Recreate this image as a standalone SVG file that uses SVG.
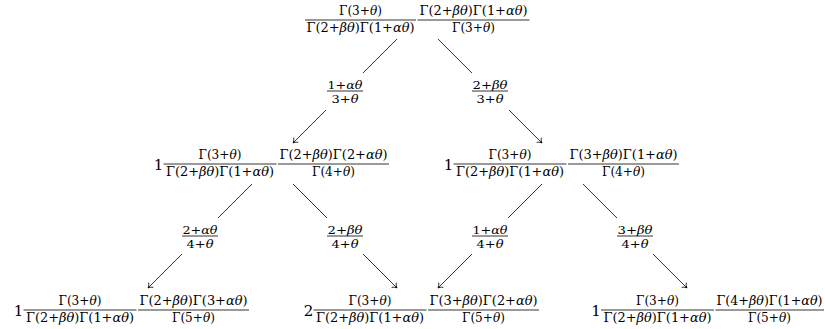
<svg xmlns="http://www.w3.org/2000/svg" width="825" height="329" viewBox="0 0 825 329">
<defs>
<style>
text{font-family:"DejaVu Serif","Liberation Serif",serif;font-size:12.5px;fill:#000;text-anchor:middle}
.i{font-style:italic}
.c{font-size:15px}
.l{font-size:11.5px}
.bar{stroke:#000;stroke-width:0.8}
.e{stroke:#000;stroke-width:0.8;fill:none}
</style>
<marker id="ah" markerUnits="userSpaceOnUse" markerWidth="10" markerHeight="10" viewBox="-5 -5 10 10" refX="0" refY="0" orient="auto">
<path d="M-4.2,-3.3 C-3,-1.5 -1,-0.3 0,0 C-1,0.3 -3,1.5 -4.2,3.3" fill="none" stroke="#000" stroke-width="0.8"/>
</marker>
</defs>
<rect width="825" height="329" fill="#fff"/>

<g id="n-top">
<line class="bar" x1="305" y1="20" x2="416" y2="20"/>
<text x="360.5" y="15" textLength="43" lengthAdjust="spacingAndGlyphs">Γ(3+<tspan class="i">θ</tspan>)</text>
<text x="360.5" y="31.5" textLength="108" lengthAdjust="spacingAndGlyphs">Γ(2+<tspan class="i">βθ</tspan>)Γ(1+<tspan class="i">αθ</tspan>)</text>
<line class="bar" x1="417.5" y1="20" x2="529.5" y2="20"/>
<text x="473.5" y="15" textLength="108" lengthAdjust="spacingAndGlyphs">Γ(2+<tspan class="i">βθ</tspan>)Γ(1+<tspan class="i">αθ</tspan>)</text>
<text x="473.5" y="31.5" textLength="43" lengthAdjust="spacingAndGlyphs">Γ(3+<tspan class="i">θ</tspan>)</text>
</g>

<g id="n-ml">
<text class="c" x="158.5" y="170">1</text>
<line class="bar" x1="163.5" y1="164" x2="276.5" y2="164"/>
<text x="220" y="159" textLength="43" lengthAdjust="spacingAndGlyphs">Γ(3+<tspan class="i">θ</tspan>)</text>
<text x="220" y="175.5" textLength="108" lengthAdjust="spacingAndGlyphs">Γ(2+<tspan class="i">βθ</tspan>)Γ(1+<tspan class="i">αθ</tspan>)</text>
<line class="bar" x1="278" y1="164" x2="389" y2="164"/>
<text x="333.5" y="159" textLength="108" lengthAdjust="spacingAndGlyphs">Γ(2+<tspan class="i">βθ</tspan>)Γ(2+<tspan class="i">αθ</tspan>)</text>
<text x="333.5" y="175.5" textLength="43" lengthAdjust="spacingAndGlyphs">Γ(4+<tspan class="i">θ</tspan>)</text>
</g>

<g id="n-mr">
<text class="c" x="448.5" y="170">1</text>
<line class="bar" x1="453.5" y1="164" x2="566.5" y2="164"/>
<text x="510" y="159" textLength="43" lengthAdjust="spacingAndGlyphs">Γ(3+<tspan class="i">θ</tspan>)</text>
<text x="510" y="175.5" textLength="108" lengthAdjust="spacingAndGlyphs">Γ(2+<tspan class="i">βθ</tspan>)Γ(1+<tspan class="i">αθ</tspan>)</text>
<line class="bar" x1="568" y1="164" x2="679" y2="164"/>
<text x="623.5" y="159" textLength="108" lengthAdjust="spacingAndGlyphs">Γ(3+<tspan class="i">βθ</tspan>)Γ(1+<tspan class="i">αθ</tspan>)</text>
<text x="623.5" y="175.5" textLength="43" lengthAdjust="spacingAndGlyphs">Γ(4+<tspan class="i">θ</tspan>)</text>
</g>

<g id="n-bl">
<text class="c" x="18.5" y="316">1</text>
<line class="bar" x1="23.5" y1="310" x2="136.5" y2="310"/>
<text x="80" y="305" textLength="43" lengthAdjust="spacingAndGlyphs">Γ(3+<tspan class="i">θ</tspan>)</text>
<text x="80" y="321.5" textLength="108" lengthAdjust="spacingAndGlyphs">Γ(2+<tspan class="i">βθ</tspan>)Γ(1+<tspan class="i">αθ</tspan>)</text>
<line class="bar" x1="138" y1="310" x2="249" y2="310"/>
<text x="193.5" y="305" textLength="108" lengthAdjust="spacingAndGlyphs">Γ(2+<tspan class="i">βθ</tspan>)Γ(3+<tspan class="i">αθ</tspan>)</text>
<text x="193.5" y="321.5" textLength="43" lengthAdjust="spacingAndGlyphs">Γ(5+<tspan class="i">θ</tspan>)</text>
</g>

<g id="n-bm">
<text class="c" x="308.5" y="316">2</text>
<line class="bar" x1="313.5" y1="310" x2="426.5" y2="310"/>
<text x="370" y="305" textLength="43" lengthAdjust="spacingAndGlyphs">Γ(3+<tspan class="i">θ</tspan>)</text>
<text x="370" y="321.5" textLength="108" lengthAdjust="spacingAndGlyphs">Γ(2+<tspan class="i">βθ</tspan>)Γ(1+<tspan class="i">αθ</tspan>)</text>
<line class="bar" x1="428" y1="310" x2="539" y2="310"/>
<text x="483.5" y="305" textLength="108" lengthAdjust="spacingAndGlyphs">Γ(3+<tspan class="i">βθ</tspan>)Γ(2+<tspan class="i">αθ</tspan>)</text>
<text x="483.5" y="321.5" textLength="43" lengthAdjust="spacingAndGlyphs">Γ(5+<tspan class="i">θ</tspan>)</text>
</g>

<g id="n-br">
<text class="c" x="596" y="316">1</text>
<line class="bar" x1="601" y1="310" x2="714" y2="310"/>
<text x="657.5" y="305" textLength="43" lengthAdjust="spacingAndGlyphs">Γ(3+<tspan class="i">θ</tspan>)</text>
<text x="657.5" y="321.5" textLength="108" lengthAdjust="spacingAndGlyphs">Γ(2+<tspan class="i">βθ</tspan>)Γ(1+<tspan class="i">αθ</tspan>)</text>
<line class="bar" x1="715.5" y1="310" x2="824" y2="310"/>
<text x="769.5" y="305" textLength="106" lengthAdjust="spacingAndGlyphs">Γ(4+<tspan class="i">βθ</tspan>)Γ(1+<tspan class="i">αθ</tspan>)</text>
<text x="769.5" y="321.5" textLength="43" lengthAdjust="spacingAndGlyphs">Γ(5+<tspan class="i">θ</tspan>)</text>
</g>

<g id="connectors">
<g id="e-top-ml">
<line class="e" x1="397" y1="39" x2="363" y2="73"/>
<line class="e" x1="326" y1="110" x2="293" y2="143" marker-end="url(#ah)"/>
<line class="bar" x1="327" y1="91" x2="363" y2="91"/>
<text class="l" x="345" y="88.5" textLength="35" lengthAdjust="spacingAndGlyphs">1+<tspan class="i">αθ</tspan></text>
<text class="l" x="345" y="102.5" textLength="27" lengthAdjust="spacingAndGlyphs">3+<tspan class="i">θ</tspan></text>
</g>
<g id="e-top-mr">
<line class="e" x1="438" y1="39" x2="472" y2="73"/>
<line class="e" x1="509" y1="110" x2="542" y2="143" marker-end="url(#ah)"/>
<line class="bar" x1="472" y1="91" x2="508" y2="91"/>
<text class="l" x="490" y="88.5" textLength="35" lengthAdjust="spacingAndGlyphs">2+<tspan class="i">βθ</tspan></text>
<text class="l" x="490" y="102.5" textLength="27" lengthAdjust="spacingAndGlyphs">3+<tspan class="i">θ</tspan></text>
</g>
<g id="e-ml-bl">
<line class="e" x1="252" y1="184" x2="218" y2="218"/>
<line class="e" x1="182" y1="254" x2="148" y2="288" marker-end="url(#ah)"/>
<line class="bar" x1="182" y1="236" x2="218" y2="236"/>
<text class="l" x="200" y="233.5" textLength="35" lengthAdjust="spacingAndGlyphs">2+<tspan class="i">αθ</tspan></text>
<text class="l" x="200" y="247.5" textLength="27" lengthAdjust="spacingAndGlyphs">4+<tspan class="i">θ</tspan></text>
</g>
<g id="e-ml-bm">
<line class="e" x1="293" y1="184" x2="327" y2="218"/>
<line class="e" x1="363" y1="254" x2="397" y2="288" marker-end="url(#ah)"/>
<line class="bar" x1="327" y1="236" x2="363" y2="236"/>
<text class="l" x="345" y="233.5" textLength="35" lengthAdjust="spacingAndGlyphs">2+<tspan class="i">βθ</tspan></text>
<text class="l" x="345" y="247.5" textLength="27" lengthAdjust="spacingAndGlyphs">4+<tspan class="i">θ</tspan></text>
</g>
<g id="e-mr-bm">
<line class="e" x1="542" y1="184" x2="508" y2="218"/>
<line class="e" x1="472" y1="254" x2="438" y2="288" marker-end="url(#ah)"/>
<line class="bar" x1="472" y1="236" x2="508" y2="236"/>
<text class="l" x="490" y="233.5" textLength="35" lengthAdjust="spacingAndGlyphs">1+<tspan class="i">αθ</tspan></text>
<text class="l" x="490" y="247.5" textLength="27" lengthAdjust="spacingAndGlyphs">4+<tspan class="i">θ</tspan></text>
</g>
<g id="e-mr-br">
<line class="e" x1="583" y1="184" x2="617" y2="218"/>
<line class="e" x1="653" y1="254" x2="687" y2="288" marker-end="url(#ah)"/>
<line class="bar" x1="617" y1="236" x2="653" y2="236"/>
<text class="l" x="635" y="233.5" textLength="35" lengthAdjust="spacingAndGlyphs">3+<tspan class="i">βθ</tspan></text>
<text class="l" x="635" y="247.5" textLength="27" lengthAdjust="spacingAndGlyphs">4+<tspan class="i">θ</tspan></text>
</g>
</g>
</svg>
